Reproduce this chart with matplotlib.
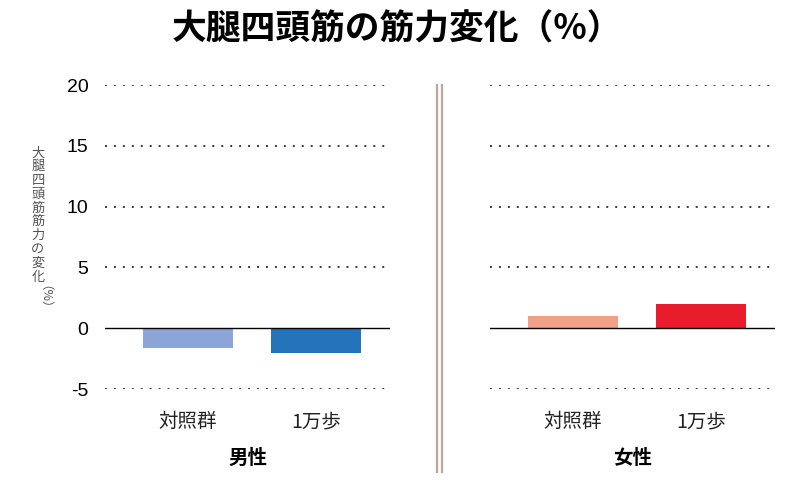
import matplotlib
matplotlib.use('Agg')
import matplotlib.pyplot as plt
from matplotlib.lines import Line2D

plt.rcParams['font.family'] = ['Noto Sans CJK JP', 'DejaVu Sans']

# data
groups = ['男性', '女性']
categories = ['対照群', '1万歩']
male_vals = [-1.6, -2.0]
female_vals = [1.0, 2.0]
male_colors = ['#8ca5d8', '#2473bb']
female_colors = ['#f0a084', '#e81c2a']
yticks = [-5, 0, 5, 10, 15, 20]

title = '大腿四頭筋の筋力変化（%）'
ylabel = '大腿四頭筋筋力の変化'

fig = plt.figure(figsize=(8, 4.93), dpi=100)
W, H = 800, 493

def px_axes(x0, x1, ytop, ybot):
    return fig.add_axes([x0 / W, 1 - ybot / H, (x1 - x0) / W, (ybot - ytop) / H])

ax_m = px_axes(105, 390, 85, 389)
ax_f = px_axes(490, 775, 85, 389)

for ax, vals, cols, grp, show_ticks in [(ax_m, male_vals, male_colors, groups[0], True),
                                         (ax_f, female_vals, female_colors, groups[1], False)]:
    x = list(range(len(categories)))
    ax.bar(x, vals, width=0.7, color=cols, zorder=3)
    ax.set_xlim(-0.65, 1.58)
    ax.set_ylim(-5, 20)
    for t in yticks:
        if t == 0:
            ax.axhline(0, color='black', lw=1.0, zorder=4)
        else:
            ax.axhline(t, color='#3a3a3a', lw=1.4, ls=(0, (1, 3.6)), zorder=1)
    for s in ax.spines.values():
        s.set_visible(False)
    ax.set_xticks(x)
    ax.set_xticklabels(categories, fontsize=14, color='#222222')
    ax.tick_params(axis='x', length=0, pad=16)
    ax.set_yticks(yticks)
    if show_ticks:
        ax.set_yticklabels([str(t) for t in yticks], fontsize=14,
                           family=['Liberation Sans', 'DejaVu Sans'])
        ax.tick_params(axis='y', length=0, pad=12)
    else:
        ax.set_yticklabels([])
        ax.tick_params(axis='y', length=0)
    ax.set_xlabel(grp, fontsize=14, fontweight='bold', labelpad=12)

# title
fig.text(397 / W, 1 - 29 / H, title, ha='center', va='center', fontsize=25, fontweight='bold')

# vertical y-axis label, stacked characters
fig.text(38 / W, 1 - 215 / H, '\n'.join(ylabel), ha='center', va='center',
         fontsize=9.5, color='#555555', linespacing=1.08)
fig.text(38 / W, 1 - 303 / H, '（%）', ha='center', va='center',
         fontsize=9, color='#555555', rotation=-90)

# double divider line between panels
for xp in (437, 442):
    fig.add_artist(Line2D([xp / W, xp / W], [1 - 85 / H, 1 - 472 / H],
                          color='#b8aa9a', lw=1.6))

fig.savefig('out.png', dpi=100)
